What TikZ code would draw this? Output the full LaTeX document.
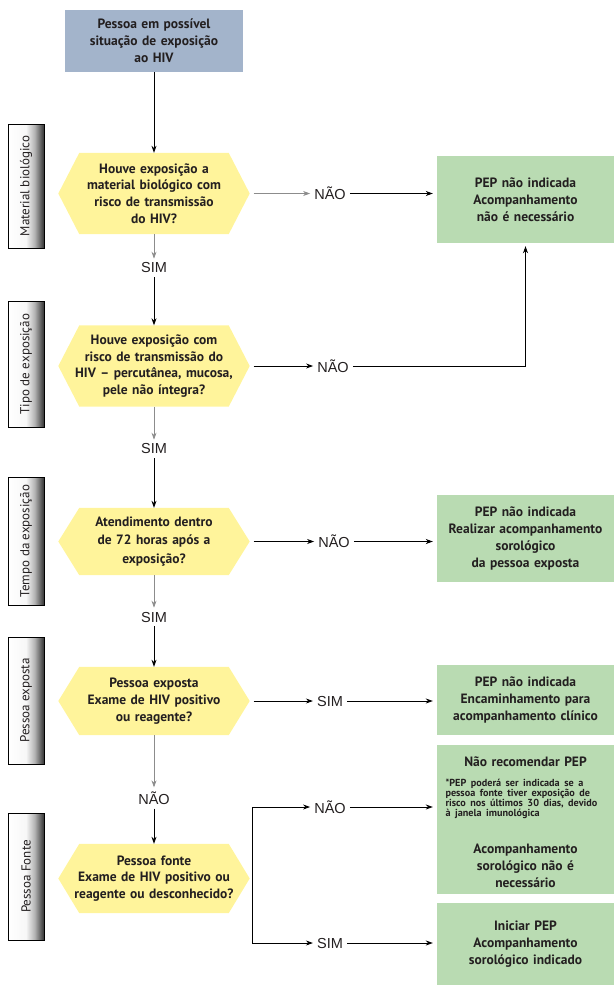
\documentclass[tikz,border=0pt]{standalone}
\usepackage{fontspec}
\setmainfont{PT Sans}
\newfontfamily\answerfont{Liberation Sans}
\usetikzlibrary{arrows.meta, positioning, backgrounds}

\definecolor{startblue}{RGB}{163,180,203}
\definecolor{hexyellow}{RGB}{255,244,155}
\definecolor{resgreen}{RGB}{185,219,178}
\definecolor{txtdark}{RGB}{35,31,32}
\pgfdeclarehorizontalshading{sidefade}{100bp}{color(0bp)=(white); color(25bp)=(white);
  color(50bp)=(white!97!black); color(62bp)=(white!70!black); color(75bp)=(black!80); color(100bp)=(black!80)}

\begin{document}
\begin{tikzpicture}[x=1pt, y=-1pt,
    box/.style={rectangle, inner sep=0pt, align=center, text=txtdark,
      font=\fontsize{13.5}{17}\selectfont\bfseries},
    start/.style={box, fill=startblue, minimum width=178pt, minimum height=62pt, text width=172pt},
    decision/.style={box, minimum width=191pt, minimum height=#1, text width=186pt,
      font=\fontsize{13.5}{16.7}\selectfont\bfseries},
    result/.style={box, fill=resgreen, minimum width=177pt, minimum height=#1, text width=172pt},
    sidebox/.style={rectangle, draw=black, line width=0.8pt, minimum width=36pt, minimum height=#1,
      shading=sidefade, inner sep=0pt, text=txtdark, font=\fontsize{13}{15}\selectfont},
    answer/.style={inner sep=4pt, font=\answerfont\fontsize{14.5}{16}\selectfont, text=txtdark},
    arrow/.style={-{Stealth[length=7pt, width=5pt]}, line width=0.8pt},
    gline/.style={arrow, black!45}]
\path[use as bounding box] (0,0) rectangle (614,988);

% start
\node[start] (start) at (154,41) {Pessoa em possível\\situação de exposição\\ao HIV};

% questions
\node[decision=81pt] (q1) at (154,193.5) {Houve exposição a\\material biológico com\\risco de transmissão\\do HIV?};
\node[decision=81pt] (q2) at (154,366) {Houve exposição com\\risco de transmissão do\\HIV – percutânea, mucosa,\\pele não íntegra?};
\node[decision=67pt] (q3) at (154,541.5) {Atendimento dentro\\[1.5pt]de 72 horas após a\\[1.5pt]exposição?};
\node[decision=68pt] (q4) at (154,701) {Pessoa exposta\\Exame de HIV positivo\\ou reagente?};
\node[decision=69pt] (q5) at (154,878.5) {Pessoa fonte\\Exame de HIV positivo ou\\reagente ou desconhecido?};

\begin{scope}[on background layer]
\foreach \q in {q1,q2,q3,q4,q5}
  \fill[hexyellow] (\q.west) -- ([xshift=21pt]\q.north west) -- ([xshift=-21pt]\q.north east)
    -- (\q.east) -- ([xshift=-21pt]\q.south east) -- ([xshift=21pt]\q.south west) -- cycle;
\end{scope}

% side labels
\node[sidebox=124pt] (s1) at (26,186) {\rotatebox{90}{Material biológico}};
\node[sidebox=126pt] (s2) at (26,364) {\rotatebox{90}{Tipo de exposição}};
\node[sidebox=128pt] (s3) at (26,541) {\rotatebox{90}{Tempo da exposição}};
\node[sidebox=127pt] (s4) at (26,700.5) {\rotatebox{90}{Pessoa exposta}};
\node[sidebox=127pt] (s5) at (26,876.5) {\rotatebox{90}{Pessoa Fonte}};

% answers
\node[answer] (sim1) at (154,268) {SIM};
\node[answer] (sim2) at (154,449) {SIM};
\node[answer] (sim3) at (154,617) {SIM};
\node[answer] (nao4) at (154,798) {NÃO};
\node[answer] (nao1) at (330,193.5) {NÃO};
\node[answer] (nao2) at (333,366) {NÃO};
\node[answer] (nao3) at (334,541.5) {NÃO};
\node[answer] (sim4) at (330,701) {SIM};
\node[answer] (nao5) at (330,807) {NÃO};
\node[answer] (sim5) at (330,943) {SIM};

% results
\node[result=87pt] (g1) at (525.5,199.5) {PEP não indicada\\Acompanhamento\\não é necessário};
\node[result=87pt] (g2) at (525.5,538.5) {PEP não indicada\\Realizar acompanhamento\\sorológico\\da pessoa exposta};
\node[result=70pt] (g3) at (525.5,700) {PEP não indicada\\Encaminhamento para\\acompanhamento clínico};
\node[result=149pt, text depth=0pt] (g4) at (525.5,819.5) {};
\node[box, text width=172pt, anchor=center] (g4t) at (525.5,822.5) {Não recomendar PEP\\[11pt]
  {\fontsize{10.2}{10.2}\selectfont\bfseries\parbox[b]{160pt}{\raggedright *PEP poderá ser indicada se a\\pessoa fonte tiver exposição de\\risco nos últimos 30 dias, devido\\à janela imunológica}}\\[20pt]
  Acompanhamento\\sorológico não é\\necessário};
\node[result=82pt] (g5) at (525.5,944) {Iniciar PEP\\Acompanhamento\\sorológico indicado};

% main column
\draw[arrow] (start) -- (q1);
\draw[gline] (q1) -- (sim1);
\draw[arrow] (sim1) -- (q2);
\draw[gline] (q2) -- (sim2);
\draw[arrow] (sim2) -- (q3);
\draw[gline] (q3) -- (sim3);
\draw[arrow] (sim3) -- (q4);
\draw[gline] (q4) -- (nao4);
\draw[arrow] (nao4) -- (q5);

% branches to the right
\draw[gline, shorten <=4pt] (q1) -- (nao1);
\draw[arrow, shorten >=4pt] (nao1) -- (nao1 -| g1.west);
\draw[arrow, shorten <=4pt] (q2) -- (nao2);
\draw[arrow, shorten >=3pt] (nao2) -| (g1.south);
\draw[arrow, shorten <=4pt] (q3) -- (nao3);
\draw[arrow, shorten >=4pt] (nao3) -- (nao3 -| g2.west);
\draw[arrow, shorten <=4pt] (q4) -- (sim4);
\draw[arrow, shorten >=4pt] (sim4) -- (sim4 -| g3.west);

\coordinate (fork) at (252,878.5);
\draw[line width=0.8pt] (fork |- nao5) -- (fork |- sim5);
\draw[arrow] (fork |- nao5) -- (nao5);
\draw[arrow] (fork |- sim5) -- (sim5);
\draw[arrow, shorten >=4pt] (nao5) -- (nao5 -| g4.west);
\draw[arrow, shorten >=4pt] (sim5) -- (sim5 -| g5.west);
\end{tikzpicture}
\end{document}
